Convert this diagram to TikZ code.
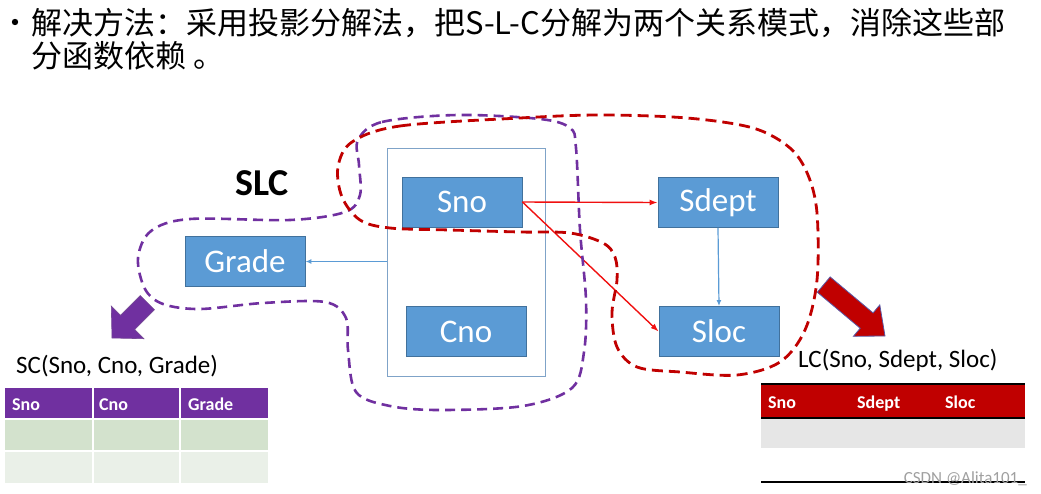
\documentclass[tikz,border=0pt]{standalone}
\usepackage{fontspec}
\setmainfont{Carlito}
\newfontfamily\cjk{Noto Sans CJK SC}
\usetikzlibrary{arrows.meta}
\definecolor{boxblue}{HTML}{5B9BD5}
\definecolor{boxedge}{HTML}{41719C}
\definecolor{frameedge}{HTML}{7FA3C8}
\definecolor{dred}{HTML}{C00000}
\definecolor{dpurple}{HTML}{7030A0}
\definecolor{arrred}{HTML}{F01010}
\definecolor{rowgreen}{HTML}{D3E2CD}
\definecolor{rowgreenl}{HTML}{EAF0E8}
\definecolor{rowgray}{HTML}{E6E6E6}
\definecolor{wmgray}{HTML}{A0A0A0}
\begin{document}
\begin{tikzpicture}[x=1pt,y=-1pt,
  attr/.style={draw=boxedge, fill=boxblue, line width=0.9pt, minimum width=120pt,
    minimum height=50pt, inner sep=0pt, text=white, font=\fontsize{33}{36}\selectfont},
  blueline/.style={draw=boxblue, line width=1.2pt, -{Latex[length=6pt,width=5pt]}},
  redline/.style={draw=arrred, line width=1.4pt, -{Latex[length=8pt,width=6pt]}},
  purpledash/.style={draw=dpurple, line width=2.6pt, dash pattern=on 10pt off 6pt},
  reddash/.style={draw=dred, line width=2.8pt, dash pattern=on 11pt off 6pt},
  lbl/.style={inner sep=0pt, font=\fontsize{25}{28}\selectfont},
  hdr/.style={inner sep=0pt, anchor=base west, text=white, font=\bfseries\fontsize{18}{20}\selectfont},
  title/.style={inner sep=0pt, anchor=base west, font=\cjk\fontsize{31}{33}\selectfont}
]
\useasboundingbox (0,0) rectangle (1041,493);

% title
\fill (15,22) circle (3.2pt);
\node[title] (t1) at (31,34) {解决方法：采用投影分解法，把S-L-C分解为两个关系模式，消除这些部};
\node[title] (t2) at (31,67) {分函数依赖 。};

% frame around Sno, Cno
\node[draw=frameedge, fill=white, line width=0.9pt, minimum width=158pt, minimum height=228pt, inner sep=0pt] (frame) at (466,262) {};

% attribute boxes
\node[attr] (sno) at (462,202) {Sno};
\node[attr] (cno) at (466,331.5) {Cno};
\node[attr] (grade) at (245,261.5) {Grade};
\node[attr] (sdept) at (718,202.5) {Sdept};
\node[attr] (sloc) at (719,331.5) {Sloc};

\node[inner sep=0pt, font=\bfseries\fontsize{38}{40}\selectfont] (slc) at (262,183) {SLC};

% dependency arrows
\draw[blueline] (frame.west |- grade.east) -- (grade.east);
\draw[redline] (sno.east) -- (sdept.west);
\draw[redline] (sno.east) -- (sloc.west);
\draw[blueline] (sdept.south) -- (sloc.north);

% dashed groupings
\draw[purpledash] plot[smooth cycle, tension=0.55] coordinates {
  (358,140) (382,122) (457,115) (540,119) (570,128) (576,148) (580,230) (586,300)
  (584,352) (572,388) (523,406) (440,410) (390,406) (356,392) (348,350) (346,318)
  (325,302) (263,303) (200,309) (163,304) (145,289) (138,258) (151,231) (190,219)
  (290,220) (345,212) (360,195) (359,165)};
\draw[reddash] plot[smooth cycle, tension=0.55] coordinates {
  (352,142) (400,126) (520,118) (600,115) (687,118) (753,128) (790,148) (808,175)
  (817,213) (817,280) (805,330) (780,362) (737,375) (680,372) (637,367) (617,347)
  (612,313) (617,280) (615,257) (603,243) (570,233) (520,232) (450,230) (390,228)
  (360,220) (342,197) (338,167)};

% block arrows
\begin{scope}[shift={(112,338)}, rotate=225]
  \fill[dpurple, draw=dpurple!70!gray, line width=0.6pt] (0,0) -- (-22,23) -- (-22,10) -- (-50,10)
    -- (-50,-10) -- (-22,-10) -- (-22,-23) -- cycle;
\end{scope}
\begin{scope}[shift={(885,336)}, rotate=-40]
  \fill[dred, draw=gray!70!blue, line width=0.8pt] (0,0) -- (-24,20.5) -- (-24,10) -- (-80,10)
    -- (-80,-10) -- (-24,-10) -- (-24,-20.5) -- cycle;
\end{scope}

% SC table
\node[lbl, anchor=west] (sclbl) at (16,366) {SC(Sno, Cno, Grade)};
\fill[dpurple] (5,388) rectangle (268,418);
\fill[rowgreen] (5,420) rectangle (268,450);
\fill[rowgreenl] (5,451.5) rectangle (268,483);
\draw[white, line width=1.5pt] (93,388) -- (93,483) (180,388) -- (180,483);
\node[hdr] (sc1) at (12,410) {Sno};
\node[hdr] (sc2) at (99,410) {Cno};
\node[hdr] (sc3) at (188,410) {Grade};

% LC table
\node[lbl, anchor=west] (lclbl) at (798,360) {LC(Sno, Sdept, Sloc)};
\fill[dred] (761,385) rectangle (1025,417);
\draw[black, line width=1.2pt] (761,384) -- (1025,384);
\draw[black, line width=1.6pt] (761,418) -- (1025,418);
\fill[rowgray] (761,419) rectangle (1025,448);
\draw[black, line width=1.8pt] (761,482) -- (1025,482);
\node[hdr] (lc1) at (768,408) {Sno};
\node[hdr] (lc2) at (857,408) {Sdept};
\node[hdr] (lc3) at (945,408) {Sloc};

% watermark
\node[inner sep=0pt, anchor=base east, text=wmgray, font=\fontsize{17}{18}\selectfont] (wm) at (1027,483) {CSDN @Alita101\_};
\end{tikzpicture}
\end{document}
